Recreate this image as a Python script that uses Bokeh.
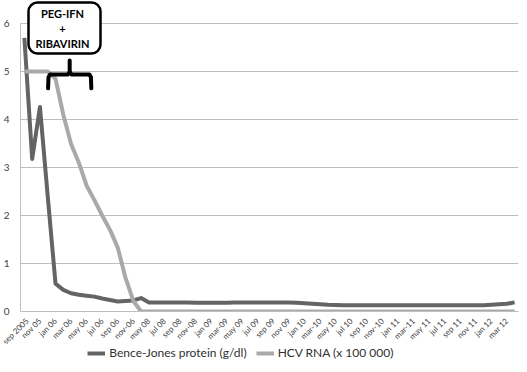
import math
import numpy as np
from bokeh.plotting import figure
from bokeh.layouts import column
from bokeh.models import (FixedTicker, Legend, LegendItem, BoxAnnotation, Label,
                          ColumnDataSource, Range1d)
from bokeh.embed import file_html
from bokeh.resources import INLINE

tick_labels = ["sep 2005", "nov 05", "jan 06", "mar 06", "may 06", "jul 06", "sep 06", "nov-06",
               "may 08", "jul 08", "sep 08", "nov-08", "jan 09", "mar-09", "may 09", "jul 09",
               "sep 09", "nov 09", "jan 10", "mar-10", "may 10", "jul 10", "sep 10", "nov-10",
               "jan 11", "mar-11", "may 11", "jul 11", "sep 11", "nov 11", "jan 12", "mar 12"]

bence_jones = [5.7, 3.18, 4.26, 2.4, 0.58, 0.45, 0.38, 0.35, 0.33, 0.31, 0.27, 0.24, 0.21, 0.22, 0.23, 0.28,
               0.19, 0.19, 0.19, 0.19, 0.19, 0.19, 0.18, 0.18, 0.18, 0.18, 0.18, 0.19, 0.19, 0.19, 0.19, 0.19,
               0.19, 0.19, 0.19, 0.18, 0.17, 0.16, 0.15, 0.14, 0.135, 0.13, 0.13, 0.13, 0.13, 0.13, 0.13, 0.13,
               0.13, 0.13, 0.13, 0.13, 0.13, 0.13, 0.13, 0.13, 0.13, 0.13, 0.13, 0.13, 0.14, 0.15, 0.16, 0.19]

hcv_rna = [5.0, 5.0, 5.0, 5.0, 4.85, 4.1, 3.49, 3.1, 2.62, 2.32, 2.0, 1.7, 1.33, 0.7, 0.22, 0.0,
           0, 0, 0, 0, 0, 0, 0, 0, 0, 0, 0, 0, 0, 0, 0, 0,
           0, 0, 0, 0, 0, 0, 0, 0, 0, 0, 0, 0, 0, 0, 0, 0,
           0, 0, 0, 0, 0, 0, 0, 0, 0, 0, 0, 0, 0, 0, 0, 0]

series_names = ["Bence-Jones protein (g/dl)", "HCV RNA (x 100 000)"]
series_colors = ["#646464", "#a9a9a9"]
y_ticks = [0, 1, 2, 3, 4, 5, 6]

x = list(range(len(bence_jones)))
src = ColumnDataSource(dict(x=x, bj=bence_jones, hcv=hcv_rna))

FONT = "Lato"
GRID = "#bfbfbf"

# frame reaches the top of the canvas so the call-out box (above the 6 line) is not clipped
p = figure(frame_width=498, frame_height=311, output_backend="svg", toolbar_location=None,
           x_range=Range1d(-0.5, len(x) - 0.5), y_range=Range1d(0, 6.48),
           min_border_left=12, min_border_right=1, min_border_top=0, min_border_bottom=0)
p.outline_line_color = None
p.background_fill_color = "white"

# axes
p.xaxis.ticker = FixedTicker(ticks=list(range(0, len(x), 2)))
p.xaxis.major_label_overrides = {i * 2: lab for i, lab in enumerate(tick_labels)}
p.xaxis.major_label_orientation = math.pi / 4
p.xaxis.major_label_text_font = FONT
p.xaxis.major_label_text_font_size = "8px"
p.xaxis.major_label_text_color = "#404040"
p.xaxis.major_tick_line_color = None
p.xaxis.minor_tick_line_color = None
p.xaxis.axis_line_color = GRID
p.xaxis.major_label_standoff = 2

p.yaxis.ticker = FixedTicker(ticks=y_ticks)
p.yaxis.bounds = (0, 6)
p.yaxis.major_label_text_font = FONT
p.yaxis.major_label_text_font_size = "10px"
p.yaxis.major_label_text_color = "#404040"
p.yaxis.major_tick_line_color = None
p.yaxis.minor_tick_line_color = None
p.yaxis.axis_line_color = GRID
p.yaxis.major_label_standoff = 5

p.xgrid.grid_line_color = None
p.ygrid.grid_line_color = GRID
p.ygrid.grid_line_width = 1

p.line("x", "bj", source=src, line_color=series_colors[0], line_width=4, line_join="round")
p.line("x", "hcv", source=src, line_color=series_colors[1], line_width=4, line_join="round")

# treatment call-out: brace (data space) + rounded box (canvas space)
brace_x = [3.04, 3.1, 3.3, 5.6, 5.82, 5.82, 5.82, 6.05, 8.35, 8.55, 8.6]
brace_y = [4.65, 4.88, 4.94, 4.94, 5.0, 5.23, 5.0, 4.94, 4.94, 4.88, 4.65]
p.line(brace_x, brace_y, line_color="black", line_width=4, line_join="round", line_cap="round")

box = BoxAnnotation(left=28, right=100, top=2, bottom=53,
                    left_units="canvas", right_units="canvas", top_units="canvas", bottom_units="canvas",
                    fill_color="white", fill_alpha=1, line_color="black", line_alpha=1, line_width=2.5,
                    border_radius=9)
p.add_layout(box)
for txt, yy in [("PEG-IFN", 13), ("+", 28), ("RIBAVIRIN", 43)]:
    p.add_layout(Label(x=62, y=yy, x_units="canvas", y_units="canvas", text=txt,
                       text_font=FONT, text_font_style="bold", text_font_size="11px",
                       text_align="center", text_baseline="middle", text_color="black"))

# legend strip below the chart (its series lie outside this strip's view; only the legend shows)
lg = figure(frame_width=498, frame_height=22, output_backend="svg", toolbar_location=None,
            x_range=Range1d(-0.5, len(x) - 0.5), y_range=Range1d(100, 101),
            x_axis_location=None, y_axis_location=None,
            min_border_left=12, min_border_right=1, min_border_top=0, min_border_bottom=0,
            styles={"margin-top": "-9px"})
lg.outline_line_color = None
lg.xgrid.grid_line_color = None
lg.ygrid.grid_line_color = None
items = []
for name, col, key in zip(series_names, series_colors, ["bj", "hcv"]):
    r = lg.line("x", key, source=src, line_color=col, line_width=4)
    items.append(LegendItem(label=name, renderers=[r]))
legend = Legend(items=items, orientation="horizontal", location=(83, 5),
                label_text_font=FONT, label_text_font_size="12px", label_text_color="#303030",
                glyph_width=18, glyph_height=14, label_standoff=4, spacing=9,
                padding=0, margin=0, border_line_color=None, background_fill_alpha=0)
lg.add_layout(legend, "center")

open("out.html", "w").write(file_html(column(p, lg), INLINE))
